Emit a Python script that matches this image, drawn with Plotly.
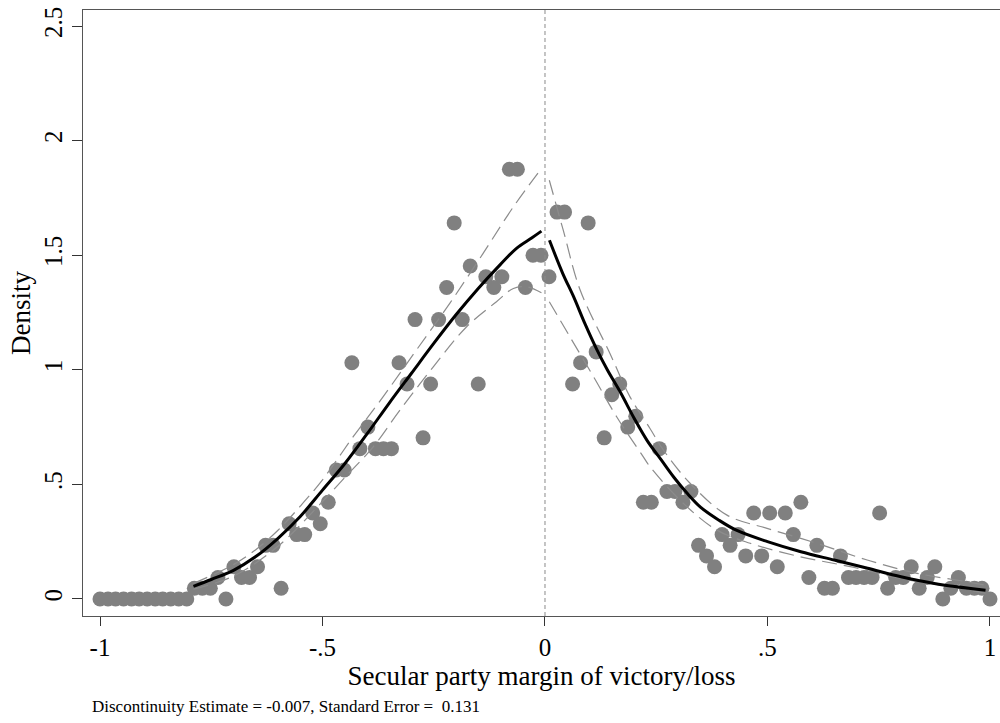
import plotly.graph_objects as go

# ---- binned density points (left of cutoff) ----
left_x = [-1.000, -0.982, -0.965, -0.947, -0.929, -0.912, -0.894, -0.876, -0.859, -0.841,
          -0.823, -0.805, -0.788, -0.770, -0.752, -0.735, -0.717, -0.699, -0.682, -0.664,
          -0.646, -0.628, -0.611, -0.593, -0.575, -0.558, -0.540, -0.522, -0.505, -0.487,
          -0.469, -0.451, -0.434, -0.416, -0.398, -0.381, -0.363, -0.345, -0.328, -0.310,
          -0.292, -0.274, -0.257, -0.239, -0.221, -0.204, -0.186, -0.168, -0.150, -0.133,
          -0.115, -0.097, -0.080, -0.062, -0.044, -0.027, -0.009]
left_y = [0, 0, 0, 0, 0, 0, 0, 0, 0, 0,
          0, 0, 0.047, 0.047, 0.047, 0.094, 0, 0.141, 0.094, 0.094,
          0.141, 0.234, 0.234, 0.047, 0.328, 0.281, 0.281, 0.375, 0.328, 0.422,
          0.563, 0.563, 1.031, 0.656, 0.750, 0.656, 0.656, 0.656, 1.031, 0.938,
          1.219, 0.703, 0.938, 1.219, 1.359, 1.641, 1.219, 1.453, 0.938, 1.406,
          1.359, 1.406, 1.875, 1.875, 1.359, 1.500, 1.500]

# ---- binned density points (right of cutoff) ----
right_x = [0.009, 0.027, 0.044, 0.062, 0.080, 0.097, 0.115, 0.133, 0.150, 0.168,
           0.186, 0.204, 0.221, 0.239, 0.257, 0.274, 0.292, 0.310, 0.328, 0.345,
           0.363, 0.381, 0.398, 0.416, 0.434, 0.451, 0.469, 0.487, 0.505, 0.522,
           0.540, 0.558, 0.575, 0.593, 0.611, 0.628, 0.646, 0.664, 0.682, 0.699,
           0.717, 0.735, 0.752, 0.770, 0.788, 0.805, 0.823, 0.841, 0.859, 0.876,
           0.894, 0.912, 0.929, 0.947, 0.965, 0.982, 1.000]
right_y = [1.406, 1.688, 1.688, 0.938, 1.031, 1.641, 1.078, 0.703, 0.891, 0.938,
           0.750, 0.797, 0.422, 0.422, 0.656, 0.469, 0.469, 0.422, 0.469, 0.234,
           0.188, 0.141, 0.281, 0.234, 0.281, 0.188, 0.375, 0.188, 0.375, 0.141,
           0.375, 0.281, 0.422, 0.094, 0.234, 0.047, 0.047, 0.188, 0.094, 0.094,
           0.094, 0.094, 0.375, 0.047, 0.094, 0.094, 0.141, 0.047, 0.094, 0.141,
           0, 0.047, 0.094, 0.047, 0.047, 0.047, 0]

# ---- fitted density and confidence bands ----
fitL_x = [-0.79, -0.75, -0.7, -0.65, -0.6, -0.55, -0.5, -0.45, -0.4, -0.35, -0.3, -0.25,
          -0.2, -0.15, -0.1, -0.064, -0.03, -0.008]
fitL_y = [0.055, 0.085, 0.125, 0.185, 0.265, 0.36, 0.475, 0.59, 0.72, 0.855, 0.985, 1.115,
          1.24, 1.355, 1.46, 1.53, 1.575, 1.605]
upL_x = [-0.79, -0.7, -0.65, -0.6, -0.55, -0.5, -0.431, -0.364, -0.289, -0.214, -0.139, -0.071, -0.008]
upL_y = [0.068, 0.15, 0.215, 0.30, 0.405, 0.52, 0.708, 0.882, 1.086, 1.29, 1.508, 1.711, 1.878]
loL_x = [-0.79, -0.7, -0.6, -0.5, -0.45, -0.386, -0.326, -0.251, -0.176, -0.109, -0.071, -0.041, -0.008]
loL_y = [0.043, 0.10, 0.23, 0.425, 0.53, 0.664, 0.824, 1.013, 1.188, 1.297, 1.355, 1.362, 1.336]

fitR_x = [0.01, 0.04, 0.064, 0.09, 0.116, 0.14, 0.17, 0.2, 0.23, 0.26, 0.29, 0.32, 0.35,
          0.39, 0.43, 0.5, 0.575, 0.65, 0.725, 0.8, 0.875, 0.99]
fitR_y = [1.565, 1.42, 1.32, 1.2, 1.09, 1.0, 0.90, 0.79, 0.69, 0.61, 0.53, 0.46, 0.40,
          0.345, 0.30, 0.25, 0.206, 0.17, 0.134, 0.097, 0.068, 0.038]
upR_x = [0.0097, 0.041, 0.079, 0.146, 0.191, 0.236, 0.266, 0.326, 0.409, 0.499, 0.611, 0.724, 0.836, 0.949, 0.99]
upR_y = [1.827, 1.609, 1.348, 1.071, 0.882, 0.744, 0.65, 0.505, 0.366, 0.308, 0.243, 0.17, 0.112, 0.075, 0.06]
loR_x = [0.0097, 0.056, 0.109, 0.161, 0.221, 0.236, 0.311, 0.386, 0.461, 0.574, 0.686, 0.799, 0.911, 0.99]
loR_y = [1.297, 1.144, 0.97, 0.795, 0.62, 0.577, 0.417, 0.301, 0.243, 0.184, 0.141, 0.09, 0.054, 0.025]

x_ticks = [-1, -0.5, 0, 0.5, 1]
x_tick_labels = ["-1", "-.5", "0", ".5", "1"]
y_ticks = [0, 0.5, 1, 1.5, 2, 2.5]
y_tick_labels = ["0", ".5", "1", "1.5", "2", "2.5"]

x_title = "Secular party margin of victory/loss"
y_title = "Density"
note = "Discontinuity Estimate = -0.007, Standard Error =  0.131"

FONT = "Liberation Serif, Times New Roman, serif"
PT_COLOR = "#808080"
CI_COLOR = "#8c8c8c"

fig = go.Figure()

for xs, ys in [(left_x, left_y), (right_x, right_y)]:
    fig.add_trace(go.Scatter(x=xs, y=ys, mode="markers",
                             marker=dict(size=15, color=PT_COLOR, line=dict(width=0)),
                             showlegend=False, hoverinfo="x+y"))

for xs, ys in [(upL_x, upL_y), (loL_x, loL_y), (upR_x, upR_y), (loR_x, loR_y)]:
    fig.add_trace(go.Scatter(x=xs, y=ys, mode="lines", line_shape="spline",
                             line=dict(color=CI_COLOR, width=1.2, dash="15px,7px"),
                             showlegend=False))

for xs, ys in [(fitL_x, fitL_y), (fitR_x, fitR_y)]:
    fig.add_trace(go.Scatter(x=xs, y=ys, mode="lines", line_shape="spline",
                             line=dict(color="black", width=3),
                             showlegend=False))

# vertical cutoff line
fig.add_vline(x=0, line=dict(color="#8a8a8a", width=1, dash="4px,3px"))

fig.update_layout(
    width=1000, height=723,
    margin=dict(l=83, r=0, t=10, b=107),
    paper_bgcolor="white", plot_bgcolor="white",
    font=dict(family=FONT, color="black", size=24),
    xaxis=dict(range=[-1.0382, 1.0225], tickvals=x_ticks, ticktext=x_tick_labels,
               showgrid=False, zeroline=False, showline=True, linecolor="#555555",
               linewidth=1.2, mirror=True, ticks="outside", ticklen=9, tickwidth=1.2,
               tickcolor="#333333", tickfont=dict(size=25, family=FONT),
               title=dict(text=x_title, font=dict(size=27, family=FONT), standoff=4)),
    yaxis=dict(range=[-0.0742, 2.5698], tickvals=y_ticks, ticktext=y_tick_labels,
               showgrid=False, zeroline=False, showline=True, linecolor="#555555",
               linewidth=1.2, ticks="outside", ticklen=10, tickwidth=1.2,
               tickcolor="#333333", tickangle=-90, tickfont=dict(size=25, family=FONT),
               title=dict(text=y_title, font=dict(size=27, family=FONT), standoff=1)),
    annotations=[dict(text=note, xref="paper", yref="paper", x=0.0076, y=-0.149,
                      xanchor="left", yanchor="middle", showarrow=False,
                      font=dict(size=17, family=FONT, color="black"))],
)

fig.write_html("out.html")
